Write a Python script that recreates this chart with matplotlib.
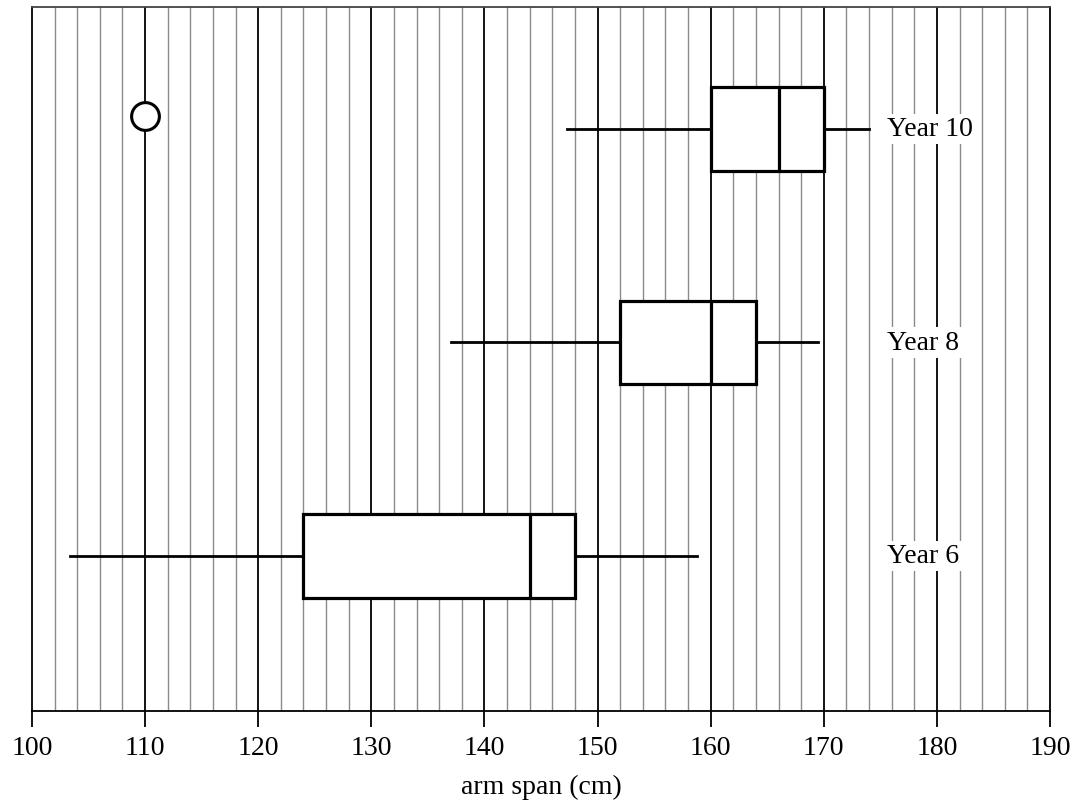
import matplotlib
matplotlib.use('Agg')
import matplotlib.pyplot as plt
import numpy as np

plt.rcParams['font.family'] = ['Liberation Serif', 'DejaVu Serif']

# Data (arm span, cm)
groups = ['Year 6', 'Year 8', 'Year 10']
positions = [1, 2, 3]
whislo = [103.4, 137.0, 147.3]
q1 = [124, 152, 160]
med = [144, 160, 166]
q3 = [148, 164, 170]
whishi = [158.8, 169.5, 174]
outlier_x = [110]
outlier_group = [3]

stats = []
for i, g in enumerate(groups):
    stats.append(dict(label=g, whislo=whislo[i], q1=q1[i], med=med[i],
                      q3=q3[i], whishi=whishi[i], fliers=[]))

fig = plt.figure(figsize=(10.83, 8.12), dpi=100)
ax = fig.add_axes([32 / 1083, 100 / 812, 1018 / 1083, 704 / 812])

# Grid lines
for x in np.arange(102, 190, 2):
    if x % 10 == 0:
        ax.axvline(x, color='black', lw=1.3, zorder=1)
    else:
        ax.axvline(x, color='#8a8a8a', lw=1.0, zorder=1)

ax.bxp(stats, positions=positions, vert=False, widths=0.39,
       showcaps=False, showfliers=False, patch_artist=True,
       boxprops=dict(facecolor='white', edgecolor='black', linewidth=2.3),
       medianprops=dict(color='black', linewidth=2.3),
       whiskerprops=dict(color='black', linewidth=2.0),
       zorder=3)

ax.plot(outlier_x, [p + 0.06 for p in outlier_group], 'o', ms=20,
        mfc='white', mec='black', mew=2.2, zorder=4)

for p, g in zip(positions, groups):
    ax.text(175.6, p, g, fontsize=20, ha='left', va='center', zorder=5,
            bbox=dict(facecolor='white', edgecolor='none', pad=2))

ax.set_xlim(100, 190)
ax.set_ylim(0.274, 3.571)
ax.set_xticks(np.arange(100, 191, 10))
ax.set_yticks([])
ax.tick_params(axis='x', length=11.5, width=1.3, pad=6, labelsize=20,
               direction='out')
for s in ['left', 'right', 'bottom']:
    ax.spines[s].set_linewidth(1.3)
    ax.spines[s].set_color('black')
ax.spines['top'].set_linewidth(1.3)
ax.spines['top'].set_color('#444444')
ax.set_xlabel('arm span (cm)', fontsize=20, labelpad=10)

fig.savefig('out.png', dpi=100)
